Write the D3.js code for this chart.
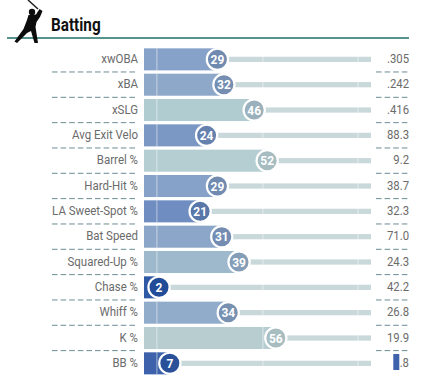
<!DOCTYPE html>
<html>
<head>
<meta charset="utf-8">
<script src="https://cdn.jsdelivr.net/npm/d3@7"></script>
<style>
  html, body { margin: 0; padding: 0; background: #fff; }
  text { font-family: Roboto, sans-serif; }
</style>
</head>
<body>
<div id="chart"></div>
<script>
var metrics = ['xwOBA', 'xBA', 'xSLG', 'Avg Exit Velo', 'Barrel %', 'Hard-Hit %', 'LA Sweet-Spot %',
    'Bat Speed', 'Squared-Up %', 'Chase %', 'Whiff %', 'K %', 'BB %'];
var percentiles = [29, 32, 46, 24, 52, 29, 21, 31, 39, 2, 34, 56, 7];
var rawValues = ['.305', '.242', '.416', '88.3', '9.2', '38.7', '32.3', '71.0', '24.3', '42.2', '26.8', '19.9', '.8'];
var guideTicks = [1, 50, 94];

(function () {
    var W = 421, H = 377;
    var svg = d3.select('#chart').append('svg')
        .attr('width', W).attr('height', H)
        .attr('viewBox', '0 0 ' + W + ' ' + H)
        .style('display', 'block');

    var barLeft = 144;
    var x = d3.scaleLinear().domain([0, 100]).range([154.7, 371]);
    var y = d3.scaleBand().domain(metrics).range([46.7, 376]).paddingInner(0.13).paddingOuter(0.065);
    var barColor = d3.scaleLinear()
        .domain([0, 10, 25, 35, 45, 50, 60])
        .range(['#2b55a3', '#4468ae', '#7f9bc6', '#93adca', '#afcbd0', '#b3cfd2', '#b9cbce']);
    var dotColor = d3.scaleLinear()
        .domain([0, 10, 25, 35, 50, 60])
        .range(['#1f4a97', '#2d5398', '#6a84b0', '#7a92b1', '#a5bcc2', '#aabdbf']);

    // Condensed text: no Roboto Condensed installed, so squeeze Roboto
    function condensed(sel, px, py, k) {
        return sel.attr('transform', 'translate(' + px + ',' + py + ') scale(' + k + ',1)');
    }

    // Header rule and title
    svg.append('line')
        .attr('x1', 7).attr('x2', 409).attr('y1', 38).attr('y2', 38)
        .attr('stroke', '#55938f').attr('stroke-width', 2);
    condensed(svg.append('text').text('Batting'), 51, 31, 0.85)
        .attr('font-size', 18).attr('font-weight', 700).attr('fill', '#111');

    // Batter silhouette
    var man = svg.append('g').attr('fill', '#0c0c0c');
    man.append('line').attr('x1', 28).attr('y1', 0).attr('x2', 38).attr('y2', 9)
        .attr('stroke', '#222').attr('stroke-width', 1.5);
    man.append('circle').attr('cx', 32).attr('cy', 12).attr('r', 3.2);
    man.append('path')
        .attr('d', 'M28.5 15 L36 14.5 L39.5 9 L42.5 11 L40 17 L36.5 22 L35.5 27 L38 43 L34.5 43 L31 31 L27 33 L17 43 L14.5 41.5 L23.5 29 L27 20 Z');

    var rows = svg.selectAll('g.row').data(metrics).enter().append('g').attr('class', 'row');

    // Bars
    rows.append('rect')
        .attr('x', barLeft)
        .attr('y', function (d) { return y(d); })
        .attr('height', y.bandwidth())
        .attr('width', function (d, i) { return x(percentiles[i]) - barLeft; })
        .attr('fill', function (d, i) { return barColor(percentiles[i]); });

    // Track to the right of each dot
    rows.append('rect')
        .attr('x', function (d, i) { return x(percentiles[i]); })
        .attr('y', function (d) { return y(d) + y.bandwidth() / 2 - 2.6; })
        .attr('height', 5.2)
        .attr('width', function (d, i) { return x(100) - x(percentiles[i]); })
        .attr('fill', '#c9d8da');

    // White guide lines across bars and tracks
    rows.each(function (d) {
        d3.select(this).selectAll('line.guide').data(guideTicks).enter().append('line')
            .attr('class', 'guide')
            .attr('x1', function (t) { return x(t); })
            .attr('x2', function (t) { return x(t); })
            .attr('y1', y(d)).attr('y2', y(d) + y.bandwidth())
            .attr('stroke', '#fff').attr('stroke-opacity', 0.4).attr('stroke-width', 1.3);
    });

    // Percentile dots
    rows.append('circle')
        .attr('cx', function (d, i) { return x(percentiles[i]); })
        .attr('cy', function (d) { return y(d) + y.bandwidth() / 2; })
        .attr('r', 10.6)
        .attr('fill', function (d, i) { return dotColor(percentiles[i]); })
        .attr('stroke', '#fff').attr('stroke-width', 2.2);
    rows.each(function (d, i) {
        condensed(d3.select(this).append('text').text(percentiles[i]), x(percentiles[i]),
            y(d) + y.bandwidth() / 2 + 4.7, 0.92)
            .attr('text-anchor', 'middle')
            .attr('font-size', 13).attr('font-weight', 700).attr('fill', '#fff');
    });

    // Left labels
    rows.each(function (d) {
        condensed(d3.select(this).append('text').text(d), 138, y(d) + y.bandwidth() / 2 + 3.8, 0.85)
            .attr('text-anchor', 'end').attr('font-size', 13.5).attr('fill', '#6b6b6b');
    });

    // Raw values at the right
    rows.each(function (d, i) {
        condensed(d3.select(this).append('text').text(rawValues[i]), 409, y(d) + y.bandwidth() / 2 + 3.8, 0.84)
            .attr('text-anchor', 'end').attr('font-size', 13.5).attr('fill', '#6b6b6b');
    });

    // Dashed separators under each row except the last
    var sepY = function (d) { return y(d) + y.bandwidth() + 1.6; };
    [[52, 138], [376, 409]].forEach(function (span) {
        svg.selectAll(null).data(metrics.slice(0, -1)).enter().append('line')
            .attr('x1', span[0]).attr('x2', span[1])
            .attr('y1', sepY).attr('y2', sepY)
            .attr('stroke', '#6a8d94').attr('stroke-width', 1)
            .attr('stroke-dasharray', '5.6 3');
    });

    // Blue marker over the last raw value
    var last = metrics[metrics.length - 1];
    svg.append('rect')
        .attr('x', 393.3).attr('y', y(last) + 1.7)
        .attr('width', 6).attr('height', 16)
        .attr('fill', '#3f62ad');
})();
</script>
</body>
</html>
